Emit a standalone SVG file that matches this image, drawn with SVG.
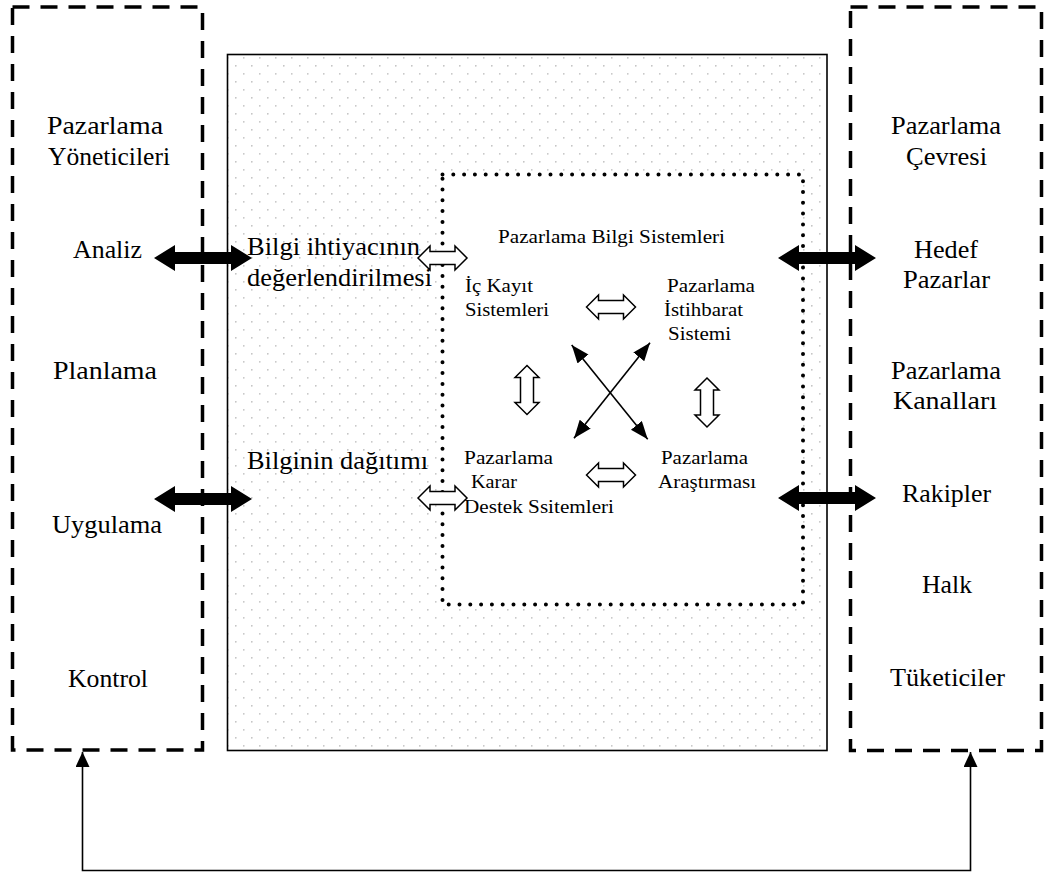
<svg xmlns="http://www.w3.org/2000/svg" width="1046" height="875" viewBox="0 0 1046 875">
  <style>
    .big { font-family: "Liberation Serif", "Times New Roman", serif; font-size: 26px; fill: #000; }
    .small { font-family: "Liberation Serif", "Times New Roman", serif; font-size: 18.5px; fill: #000; }
    .dashbox { fill: none; stroke: #000; stroke-width: 3.5; stroke-dasharray: 17 11; }
    .solid { fill: #000; stroke: none; }
    .hollow { fill: #fff; stroke: #000; stroke-width: 1.5; stroke-linejoin: miter; }
    .link { fill: none; stroke: #000; stroke-width: 1.6; }
  </style>
  <defs>
    <pattern id="dots" x="11" y="1" width="16" height="16" patternUnits="userSpaceOnUse">
      <circle cx="0.8" cy="0.8" r="0.85" fill="#c0c0c0"/>
      <circle cx="8.8" cy="8.8" r="0.85" fill="#c0c0c0"/>
    </pattern>
    <!-- thick black two-way arrow, centred on the origin -->
    <path id="bigArrow" d="M-49,0 L-28,-13 L-28,-6 L28,-6 L28,-13 L49,0 L28,13 L28,6 L-28,6 L-28,13 Z"/>
    <!-- outlined two-way arrow, centred on the origin -->
    <path id="openArrow" d="M-24.5,0 L-12.5,-12 L-12.5,-6.5 L12.5,-6.5 L12.5,-12 L24.5,0 L12.5,12 L12.5,6.5 L-12.5,6.5 L-12.5,12 Z"/>
    <marker id="head" markerUnits="userSpaceOnUse" markerWidth="20" markerHeight="16" refX="18" refY="7" orient="auto-start-reverse">
      <path d="M0,0 L18,7 L0,14 Z" fill="#000"/>
    </marker>
    <marker id="headSmall" markerUnits="userSpaceOnUse" markerWidth="18" markerHeight="16" refX="15" refY="7" orient="auto-start-reverse">
      <path d="M0,0 L15,7 L0,14 Z" fill="#000"/>
    </marker>
  </defs>

  <rect width="1046" height="875" fill="#fff"/>

  <!-- information system body with dotted fill -->
  <g id="mis-area">
    <rect x="227.5" y="54.5" width="599.5" height="696" fill="url(#dots)" stroke="#000" stroke-width="1.6"/>
  </g>

  <!-- marketing information system core -->
  <g id="mis-core">
    <rect x="442.5" y="174.5" width="360.5" height="430" fill="#fff"/>
    <rect x="442.5" y="174.5" width="360.5" height="430" fill="none" stroke="#000" stroke-width="4" stroke-linecap="round" stroke-dasharray="0 10.8"/>
    <text class="small" x="498" y="243" textLength="227" lengthAdjust="spacingAndGlyphs">Pazarlama Bilgi Sistemleri</text>
  </g>

  <g id="internal-records">
    <text class="small" x="465" y="292" textLength="68" lengthAdjust="spacingAndGlyphs">İç Kayıt</text>
    <text class="small" x="465" y="316" textLength="84" lengthAdjust="spacingAndGlyphs">Sistemleri</text>
  </g>

  <g id="intelligence">
    <text class="small" x="667" y="292" textLength="88" lengthAdjust="spacingAndGlyphs">Pazarlama</text>
    <text class="small" x="664" y="316" textLength="79" lengthAdjust="spacingAndGlyphs">İstihbarat</text>
    <text class="small" x="668" y="340" textLength="63" lengthAdjust="spacingAndGlyphs">Sistemi</text>
  </g>

  <g id="decision-support">
    <text class="small" x="464" y="464" textLength="89" lengthAdjust="spacingAndGlyphs">Pazarlama</text>
    <text class="small" x="471" y="488" textLength="46" lengthAdjust="spacingAndGlyphs">Karar</text>
    <text class="small" x="464" y="513" textLength="150" lengthAdjust="spacingAndGlyphs">Destek Ssitemleri</text>
  </g>

  <g id="research">
    <text class="small" x="661" y="464" textLength="87" lengthAdjust="spacingAndGlyphs">Pazarlama</text>
    <text class="small" x="658" y="488" textLength="98" lengthAdjust="spacingAndGlyphs">Araştırması</text>
  </g>

  <g id="needs-assessment">
    <text class="big" x="247" y="255" textLength="173" lengthAdjust="spacingAndGlyphs">Bilgi ihtiyacının</text>
    <text class="big" x="247" y="286" textLength="185" lengthAdjust="spacingAndGlyphs">değerlendirilmesi</text>
  </g>

  <g id="distribution">
    <text class="big" x="247" y="469" textLength="181" lengthAdjust="spacingAndGlyphs">Bilginin dağıtımı</text>
  </g>

  <!-- marketing managers -->
  <g id="managers">
    <rect class="dashbox" x="12.5" y="7" width="190" height="743"/>
    <text class="big" x="47" y="134" textLength="116" lengthAdjust="spacingAndGlyphs">Pazarlama</text>
    <text class="big" x="48" y="165" textLength="122" lengthAdjust="spacingAndGlyphs">Yöneticileri</text>
    <text class="big" x="73" y="258" textLength="69" lengthAdjust="spacingAndGlyphs">Analiz</text>
    <text class="big" x="53" y="379" textLength="104" lengthAdjust="spacingAndGlyphs">Planlama</text>
    <text class="big" x="52" y="533" textLength="110" lengthAdjust="spacingAndGlyphs">Uygulama</text>
    <text class="big" x="68" y="687" textLength="80" lengthAdjust="spacingAndGlyphs">Kontrol</text>
  </g>

  <!-- marketing environment -->
  <g id="environment">
    <rect class="dashbox" x="850.5" y="7" width="191" height="743.5"/>
    <text class="big" x="891" y="134" textLength="110" lengthAdjust="spacingAndGlyphs">Pazarlama</text>
    <text class="big" x="906" y="165" textLength="81" lengthAdjust="spacingAndGlyphs">Çevresi</text>
    <text class="big" x="914" y="258" textLength="64" lengthAdjust="spacingAndGlyphs">Hedef</text>
    <text class="big" x="903" y="288" textLength="87" lengthAdjust="spacingAndGlyphs">Pazarlar</text>
    <text class="big" x="891" y="379" textLength="110" lengthAdjust="spacingAndGlyphs">Pazarlama</text>
    <text class="big" x="893" y="409" textLength="104" lengthAdjust="spacingAndGlyphs">Kanalları</text>
    <text class="big" x="902" y="502" textLength="89" lengthAdjust="spacingAndGlyphs">Rakipler</text>
    <text class="big" x="922" y="593" textLength="50" lengthAdjust="spacingAndGlyphs">Halk</text>
    <text class="big" x="890" y="686" textLength="115" lengthAdjust="spacingAndGlyphs">Tüketiciler</text>
  </g>

  <!-- connectors -->
  <g id="connectors">
    <use href="#bigArrow" class="solid" transform="translate(203,258)"/>
    <use href="#bigArrow" class="solid" transform="translate(203,499)"/>
    <use href="#bigArrow" class="solid" transform="translate(827,258)"/>
    <use href="#bigArrow" class="solid" transform="translate(827,498)"/>

    <use href="#openArrow" class="hollow" transform="translate(442.5,258)"/>
    <use href="#openArrow" class="hollow" transform="translate(442.5,498)"/>
    <use href="#openArrow" class="hollow" transform="translate(611,307)"/>
    <use href="#openArrow" class="hollow" transform="translate(611,475)"/>
    <use href="#openArrow" class="hollow" transform="translate(527,390) rotate(90)"/>
    <use href="#openArrow" class="hollow" transform="translate(707,402.5) rotate(90)"/>

    <line class="link" x1="571.7" y1="345" x2="647.7" y2="439.3" marker-start="url(#head)" marker-end="url(#head)"/>
    <line class="link" x1="650" y1="342.7" x2="574" y2="438.3" marker-start="url(#head)" marker-end="url(#head)"/>

    <path class="link" d="M82.5,752 V870.5 H970.5 V752" marker-start="url(#headSmall)" marker-end="url(#headSmall)"/>
  </g>
</svg>
